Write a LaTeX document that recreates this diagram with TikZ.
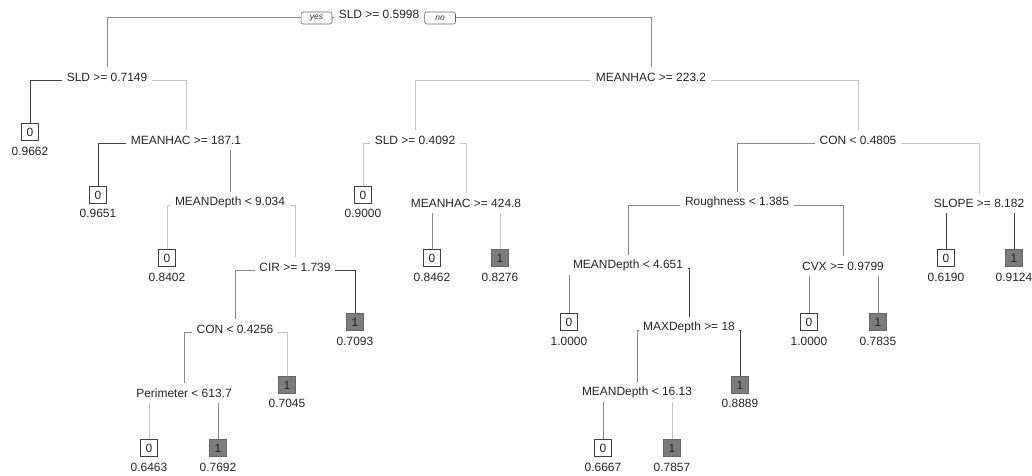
\documentclass[tikz,border=0pt]{standalone}
\usepackage{fontspec}
\setmainfont{Liberation Sans}
\usetikzlibrary{calc}
\pgfdeclarelayer{bg}
\pgfsetlayers{bg,main}
\definecolor{dkline}{HTML}{404040}
\definecolor{mdline}{HTML}{8A8A8A}
\definecolor{ltline}{HTML}{C4C4C4}
\definecolor{leafgray}{HTML}{7C7C7C}
\begin{document}
\begin{tikzpicture}[x=0.025cm,y=-0.025cm,
  split/.style={fill=white, inner xsep=3.3pt, inner ysep=0pt, minimum height=14pt,
    font=\fontsize{8.5}{10}\selectfont, text=black!85},
  leafzero/.style={draw=black!75, fill=white, minimum width=12pt, minimum height=12pt,
    inner sep=0pt, line width=0.5pt, font=\fontsize{8.5}{10}\selectfont, text=black!85},
  leafone/.style={leafzero, draw=black!60, fill=leafgray},
  valtext/.style={inner sep=0pt, font=\fontsize{8.5}{10}\selectfont, text=black!85},
  ynbox/.style={draw=black!60, rounded corners=1.5pt, fill=white, minimum width=22pt,
    minimum height=8.5pt, inner sep=0pt, font=\fontsize{6}{7}\selectfont\itshape, text=black!80},
  dk/.style={draw=dkline, line width=0.7pt},
  md/.style={draw=mdline, line width=0.7pt},
  lt/.style={draw=ltline, line width=0.7pt}]
\useasboundingbox (0,0) rectangle (1032,475);
% split nodes
\node[split] (r) at (379,14) {SLD >= 0.5998};
\node[split] (a) at (107,77) {SLD >= 0.7149};
\node[split] (b) at (186,140) {MEANHAC >= 187.1};
\node[split] (c) at (230,202) {MEANDepth < 9.034};
\node[split] (d) at (295,267) {CIR >= 1.739};
\node[split] (e) at (235,329) {CON < 0.4256};
\node[split] (f) at (184,393) {Perimeter < 613.7};
\node[split] (g) at (651,77) {MEANHAC >= 223.2};
\node[split] (h) at (415,140) {SLD >= 0.4092};
\node[split] (i) at (466,203) {MEANHAC >= 424.8};
\node[split] (j) at (858,140) {CON < 0.4805};
\node[split] (k) at (737,202) {Roughness < 1.385};
\node[split] (l) at (628,265) {MEANDepth < 4.651};
\node[split] (m) at (689,327) {MAXDepth >= 18};
\node[split] (n) at (637,392) {MEANDepth < 16.13};
\node[split] (o) at (843,266) {CVX >= 0.9799};
\node[split] (p) at (979,203) {SLOPE >= 8.182};
% yes / no
\node[ynbox] (yes) at (316.5,18) {yes};
\node[ynbox] (no) at (440,18) {no};
% leaves
\node[leafzero] (L1) at (30,132) {0};   \node[valtext] (L1v) at (30,151) {0.9662};
\node[leafzero] (L2) at (98,195) {0};   \node[valtext] (L2v) at (98,213) {0.9651};
\node[leafzero] (L3) at (167,258) {0};  \node[valtext] (L3v) at (167,277) {0.8402};
\node[leafone] (L4) at (355,322) {1};   \node[valtext] (L4v) at (355,341) {0.7093};
\node[leafone] (L5) at (287,385) {1};   \node[valtext] (L5v) at (287,403) {0.7045};
\node[leafzero] (L6) at (149,448) {0};  \node[valtext] (L6v) at (149,467) {0.6463};
\node[leafone] (L7) at (218,448) {1};   \node[valtext] (L7v) at (218,467) {0.7692};
\node[leafzero] (L8) at (363,195) {0};  \node[valtext] (L8v) at (363,213) {0.9000};
\node[leafzero] (L9) at (432,258) {0};  \node[valtext] (L9v) at (432,277) {0.8462};
\node[leafone] (L10) at (500,258) {1};  \node[valtext] (L10v) at (500,277) {0.8276};
\node[leafzero] (L11) at (569,322) {0}; \node[valtext] (L11v) at (569,341) {1.0000};
\node[leafone] (L12) at (740,385) {1};  \node[valtext] (L12v) at (740,403) {0.8889};
\node[leafzero] (L13) at (603,448) {0}; \node[valtext] (L13v) at (603,467) {0.6667};
\node[leafone] (L14) at (672,448) {1};  \node[valtext] (L14v) at (672,467) {0.7857};
\node[leafzero] (L15) at (809,322) {0}; \node[valtext] (L15v) at (809,341) {1.0000};
\node[leafone] (L16) at (878,322) {1};  \node[valtext] (L16v) at (878,341) {0.7835};
\node[leafzero] (L17) at (946,258) {0}; \node[valtext] (L17v) at (946,277) {0.6190};
\node[leafone] (L18) at (1014,258) {1}; \node[valtext] (L18v) at (1014,277) {0.9124};
% connectors
\begin{pgfonlayer}{bg}
\newcommand\edge[3]{\draw[#1] ($(#2)+(0,3.5)$) -| (#3.north);}
\edge{md}{r}{a} \edge{md}{r}{g}
\edge{dk}{a}{L1} \edge{lt}{a}{b}
\edge{dk}{b}{L2} \edge{md}{b}{c}
\edge{lt}{c}{L3} \edge{lt}{c}{d}
\edge{md}{d}{e} \edge{dk}{d}{L4}
\edge{md}{e}{f} \edge{lt}{e}{L5}
\edge{lt}{f}{L6} \edge{md}{f}{L7}
\edge{lt}{g}{h} \edge{lt}{g}{j}
\edge{lt}{h}{L8} \edge{lt}{h}{i}
\edge{md}{i}{L9} \edge{lt}{i}{L10}
\edge{md}{j}{k} \edge{lt}{j}{p}
\edge{md}{k}{l} \edge{md}{k}{o}
\edge{md}{l}{L11} \edge{dk}{l}{m}
\edge{md}{m}{n} \edge{dk}{m}{L12}
\edge{md}{n}{L13} \edge{lt}{n}{L14}
\edge{md}{o}{L15} \edge{md}{o}{L16}
\edge{dk}{p}{L17} \edge{dk}{p}{L18}
\end{pgfonlayer}
\end{tikzpicture}
\end{document}
